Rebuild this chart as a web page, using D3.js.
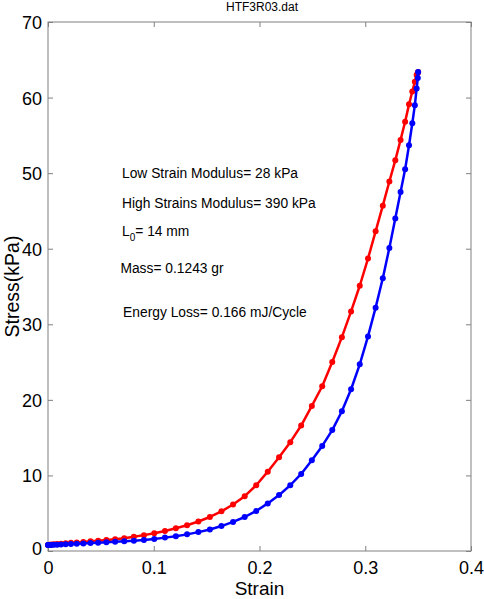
<!DOCTYPE html>
<html><head><meta charset="utf-8">
<script src="https://cdn.jsdelivr.net/npm/d3@7"></script>
<style>body{margin:0;background:#fff}svg{display:block}text{font-family:"Liberation Sans",Arial,Helvetica,sans-serif}</style>
</head><body>
<script>
const title = "HTF3R03.dat";
const xTicks = [0, 0.1, 0.2, 0.3, 0.4];
const yTicks = [0, 10, 20, 30, 40, 50, 60, 70];
const strain = [0, 0.0003, 0.0014, 0.0031, 0.0055, 0.0086, 0.0123, 0.0167, 0.0217, 0.0272,
  0.0334, 0.0402, 0.0474, 0.0552, 0.0635, 0.0721, 0.0812, 0.0907, 0.1005, 0.1106,
  0.1209, 0.1315, 0.1422, 0.1531, 0.1640, 0.1750, 0.1860, 0.1969, 0.2078, 0.2185,
  0.2291, 0.2394, 0.2495, 0.2593, 0.2688, 0.2779, 0.2866, 0.2948, 0.3026, 0.3098,
  0.3166, 0.3228, 0.3284, 0.3334, 0.3377, 0.3414, 0.3445, 0.3469, 0.3486, 0.3497, 0.35];
const loading = [0.8, 0.8, 0.82, 0.85, 0.88, 0.92, 0.96, 1.02, 1.08, 1.14,
  1.2, 1.28, 1.36, 1.45, 1.56, 1.7, 1.88, 2.1, 2.35, 2.65,
  3.0, 3.4, 3.9, 4.5, 5.25, 6.15, 7.25, 8.7, 10.5, 12.4,
  14.4, 16.6, 19.2, 21.8, 25.0, 28.3, 31.7, 35.1, 38.7, 42.3,
  45.7, 48.9, 51.7, 54.4, 56.8, 59.1, 60.8, 62.1, 63.0, 63.3, 63.4];
const unloading = [0.8, 0.8, 0.8, 0.81, 0.82, 0.84, 0.86, 0.89, 0.92, 0.96,
  1.0, 1.05, 1.1, 1.16, 1.22, 1.29, 1.37, 1.47, 1.6, 1.77,
  1.96, 2.2, 2.5, 2.85, 3.3, 3.85, 4.5, 5.3, 6.3, 7.4,
  8.7, 10.2, 12.0, 13.9, 16.0, 18.5, 21.4, 24.7, 28.4, 32.2,
  36.1, 40.1, 44.0, 47.5, 50.5, 53.7, 56.6, 59.0, 61.2, 62.6, 63.4];
const notes = [
  {t: "Low Strain Modulus= 28 kPa", x: 0.07, y: 49.3},
  {t: "High Strains Modulus= 390 kPa", x: 0.07, y: 45.4},
  {t: "L", sub: "0", rest: "= 14 mm", x: 0.07, y: 41.7},
  {t: "Mass= 0.1243 gr", x: 0.0685, y: 36.8},
  {t: "Energy Loss= 0.166 mJ/Cycle", x: 0.071, y: 31.0}
];

const W = 484, H = 599;
const m = {l: 48, r: 471, t: 22, b: 551};
const svg = d3.select("body").append("svg").attr("width", W).attr("height", H);
const x = d3.scaleLinear().domain([0, 0.4]).range([m.l, m.r]);
const y = d3.scaleLinear().domain([0, 70]).range([m.b, m.t]);
const axisColor = "#808080";

svg.append("rect").attr("x", m.l).attr("y", m.t).attr("width", m.r - m.l).attr("height", m.b - m.t)
  .attr("fill", "none").attr("stroke", axisColor).attr("stroke-width", 1);

const gx = svg.append("g").attr("transform", `translate(0,${m.b})`)
  .call(d3.axisBottom(x).tickValues(xTicks).tickSizeInner(-5).tickSizeOuter(0).tickPadding(10).tickFormat(d => d === 0 ? "0" : d3.format(".1f")(d)));
const gy = svg.append("g").attr("transform", `translate(${m.l},0)`)
  .call(d3.axisLeft(y).tickValues(yTicks).tickSizeInner(-5).tickSizeOuter(0).tickPadding(6).tickFormat(d3.format("d")));
const gxt = svg.append("g").attr("transform", `translate(0,${m.t})`)
  .call(d3.axisTop(x).tickValues(xTicks).tickSizeInner(-5).tickSizeOuter(0).tickFormat(""));
const gyr = svg.append("g").attr("transform", `translate(${m.r},0)`)
  .call(d3.axisRight(y).tickValues(yTicks).tickSizeInner(-5).tickSizeOuter(0).tickFormat(""));
[gx, gy, gxt, gyr].forEach(g => {
  g.select(".domain").remove();
  g.selectAll("line").attr("stroke", axisColor);
  g.selectAll("text").attr("fill", "#000").style("font-size", "18px")
    .style("font-family", '"Liberation Sans",Arial,Helvetica,sans-serif');
});
gy.selectAll("text").attr("dy", "0.36em");
gy.selectAll(".tick").filter(d => d === 0).select("text").attr("dy", "0.2em");

svg.append("text").attr("x", (m.l + m.r) / 2).attr("y", 595).attr("text-anchor", "middle")
  .style("font-size", "19px").text("Strain");
svg.append("text").attr("transform", `translate(19,${(m.t + m.b) / 2}) rotate(-90)`)
  .attr("text-anchor", "middle").style("font-size", "19.5px").text("Stress(kPa)");
svg.append("text").attr("x", 262).attr("y", 11).attr("text-anchor", "middle")
  .style("font-size", "12px").text(title);

const line = d3.line().x(d => x(d[0])).y(d => y(d[1]));
const series = [
  {vals: loading, color: "#ff0000"},
  {vals: unloading, color: "#0000ff"}
];
series.forEach(s => {
  const pts = strain.map((e, i) => [e, s.vals[i]]);
  svg.append("path").datum(pts).attr("d", line).attr("fill", "none")
    .attr("stroke", s.color).attr("stroke-width", 2.5).attr("stroke-linejoin", "round");
  svg.append("g").selectAll("circle").data(pts).join("circle")
    .attr("cx", d => x(d[0])).attr("cy", d => y(d[1])).attr("r", 3).attr("fill", s.color);
});

notes.forEach(n => {
  const t = svg.append("text").attr("x", x(n.x)).attr("y", y(n.y)).style("font-size", "13.8px");
  t.append("tspan").text(n.t);
  if (n.sub) {
    t.append("tspan").attr("dy", 5).style("font-size", "10px").text(n.sub);
    t.append("tspan").attr("dy", -5).text(n.rest);
  }
});
</script>
</body></html>
